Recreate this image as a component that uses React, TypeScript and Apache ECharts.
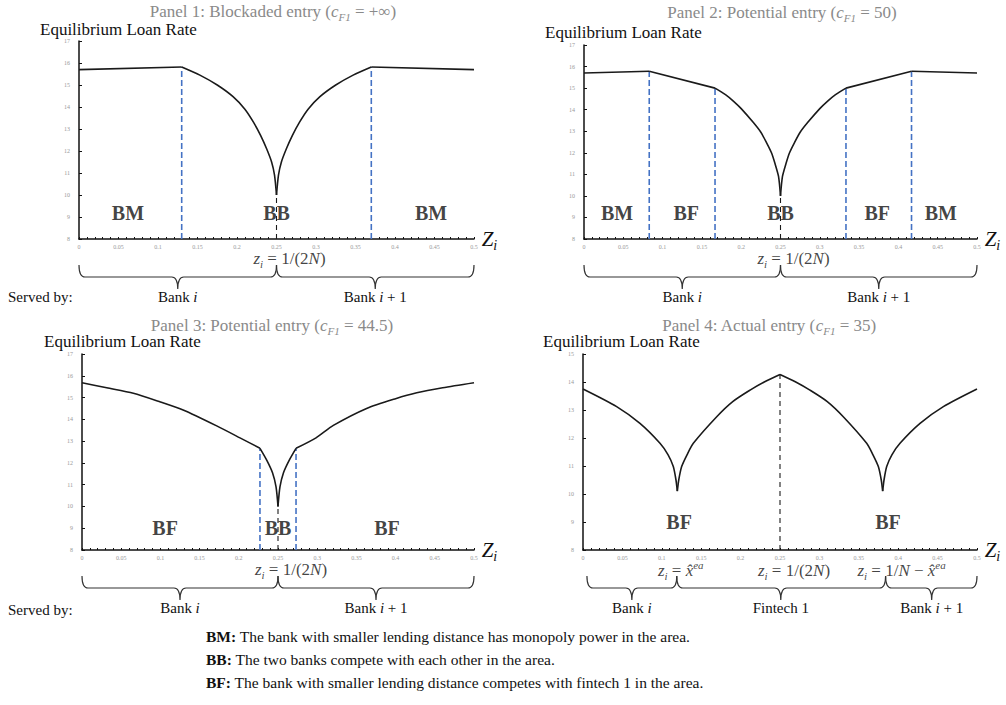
import React, { useEffect, useRef } from "react";
import * as echarts from "echarts";

const FONT = '"Liberation Serif", "Times New Roman", serif';

// ---------- data ----------
const X_TICK_INTERVAL = 0.05;
const X_MAX = 0.5;
const Y_MIN = 8;
const Y_MAX = [17, 17, 17, 15];

const P1_X = [0, 0.13, 0.153, 0.175, 0.195, 0.21, 0.221, 0.23, 0.2375, 0.2438, 0.2475, 0.25, 0.2525, 0.2562, 0.2625, 0.27, 0.279, 0.29, 0.305, 0.325, 0.347, 0.37, 0.5];
const P1_Y = [15.7, 15.82, 15.45, 15.0, 14.47, 13.9, 13.3, 12.7, 12.1, 11.5, 10.9, 10.0, 10.9, 11.5, 12.1, 12.7, 13.3, 13.9, 14.47, 15.0, 15.45, 15.82, 15.7];
const P1_KINKS = [0.13, 0.25, 0.37];

const P2_X = [0, 0.083, 0.1667, 0.18, 0.19, 0.2, 0.2155, 0.225, 0.2325, 0.2385, 0.243, 0.2475, 0.25, 0.2525, 0.257, 0.2615, 0.2675, 0.275, 0.2845, 0.3, 0.31, 0.32, 0.3333, 0.4167, 0.5];
const P2_Y = [15.7, 15.78, 15.0, 14.7, 14.4, 14.05, 13.4, 12.95, 12.45, 12.0, 11.5, 10.9, 10.0, 10.9, 11.5, 12.0, 12.45, 12.95, 13.4, 14.05, 14.4, 14.7, 15.0, 15.78, 15.7];
const P2_KINKS = [0.083, 0.1667, 0.25, 0.3333, 0.4167];

const P3_X = [0, 0.0315, 0.0655, 0.1, 0.129, 0.1718, 0.2015, 0.227, 0.2356, 0.243, 0.2475, 0.25, 0.2525, 0.257, 0.2644, 0.273, 0.2985, 0.3206, 0.363, 0.4, 0.427, 0.46, 0.5];
const P3_Y = [15.68, 15.45, 15.2, 14.8, 14.43, 13.7, 13.15, 12.67, 12.13, 11.55, 10.9, 10.0, 10.9, 11.55, 12.13, 12.67, 13.15, 13.72, 14.5, 14.95, 15.22, 15.45, 15.68];
const P3_KINKS = [0.227, 0.25, 0.273];

const P4_X = [0, 0.0427, 0.0723, 0.0977, 0.108, 0.1146, 0.118, 0.1197, 0.1215, 0.1252, 0.132, 0.14, 0.1697, 0.19, 0.212, 0.23, 0.25, 0.27, 0.288, 0.31, 0.3303, 0.36, 0.368, 0.3748, 0.3785, 0.3803, 0.382, 0.3854, 0.392, 0.4023, 0.4277, 0.4573, 0.5];
const P4_Y = [13.75, 13.12, 12.52, 11.81, 11.4, 10.98, 10.5, 10.1, 10.5, 10.98, 11.4, 11.81, 12.76, 13.3, 13.71, 14.0, 14.27, 14.0, 13.71, 13.3, 12.76, 11.81, 11.4, 10.98, 10.5, 10.1, 10.5, 10.98, 11.4, 11.81, 12.52, 13.12, 13.75];
const P4_KINKS = [0.1197, 0.25, 0.3803];

// vertical dashed blue boundaries: [x, top value]
const P1_BLUE = [[0.13, 15.82], [0.37, 15.82]];
const P2_BLUE = [[0.083, 15.78], [0.1667, 15.0], [0.3333, 15.0], [0.4167, 15.78]];
const P3_BLUE = [[0.227, 12.67], [0.273, 12.67]];
const P4_BLUE: number[][] = [];
// black dashed at midpoint: [x, top value]
const MID_DASH = [[0.25, 10.0], [0.25, 10.0], [0.25, 10.0], [0.25, 14.27]];

// region labels: [x, y, name]
const P1_REGIONS: [number, number, string][] = [[0.062, 9.2, "BM"], [0.25, 9.2, "BB"], [0.4456, 9.2, "BM"]];
const P2_REGIONS: [number, number, string][] = [[0.042, 9.22, "BM"], [0.13, 9.22, "BF"], [0.25, 9.22, "BB"], [0.373, 9.22, "BF"], [0.454, 9.22, "BM"]];
const P3_REGIONS: [number, number, string][] = [[0.106, 9.0, "BF"], [0.25, 9.0, "BB"], [0.389, 9.0, "BF"]];
const P4_REGIONS: [number, number, string][] = [[0.122, 9.0, "BF"], [0.387, 9.0, "BF"]];

// braces: [from, tip, to]
const P1_BRACES = [[0, 0.125, 0.25], [0.25, 0.375, 0.5]];
const P2_BRACES = [[0, 0.125, 0.25], [0.25, 0.375, 0.5]];
const P3_BRACES = [[0, 0.125, 0.25], [0.25, 0.375, 0.5]];
const P4_BRACES = [[0.005, 0.062, 0.119], [0.119, 0.251, 0.384], [0.384, 0.4425, 0.5]];
const BANK_LABELS = ["Bank {it|i}", "Bank {it|i} + 1"];
const P4_BRACE_LABELS = ["Bank {it|i}", "Fintech 1", "Bank {it|i} + 1"];

// annotations below axis: [x, pixel shift, rich text]
const MID_NOTE = "{m|z}{s|i}{n| = 1/(2}{m|N}{n|)}";
const P123_NOTES: [number, number, string][] = [[0.25, 13, MID_NOTE]];
const P4_NOTES: [number, number, string][] = [
  [0.119, 4, "{m|z}{s|i}{n| = }{m|x̂}{p|ea}"],
  [0.25, 14, MID_NOTE],
  [0.384, 16, "{m|z}{s|i}{n| = 1/}{m|N}{n| − }{m|x̂}{p|ea}"],
];

const TITLES = [
  "{t|Panel 1: Blockaded entry (}{ti|c}{ts|F1}{t| = +∞)}",
  "{t|Panel 2: Potential entry (}{ti|c}{ts|F1}{t| = 50)}",
  "{t|Panel 3: Potential entry (}{ti|c}{ts|F1}{t| = 44.5)}",
  "{t|Panel 4: Actual entry (}{ti|c}{ts|F1}{t| = 35)}",
];
const Y_TITLE = "Equilibrium Loan Rate";
const LEGEND_LINES = [
  "{b|BM:} The bank with smaller lending distance has monopoly power in the area.",
  "{b|BB:} The two banks compete with each other in the area.",
  "{b|BF:} The bank with smaller lending distance competes with fintech 1 in the area.",
];

// ---------- layout ----------
const GRIDS = [
  { left: 79, top: 41, width: 395, height: 198 },
  { left: 584, top: 45, width: 393, height: 194 },
  { left: 82, top: 354, width: 392, height: 196 },
  { left: 583, top: 354, width: 394, height: 196 },
];
const TITLE_POS = [[273, 11], [782, 12], [272, 325], [769, 325]];
const YTITLE_POS = [[40, 29], [545, 32], [44, 341], [543, 341]];
const NOTE_DY = [19, 19, 19, 20];

const mathRich = {
  m: { fontFamily: FONT, fontStyle: "italic", fontSize: 17, lineHeight: 22, color: "#111" },
  n: { fontFamily: FONT, fontSize: 17, lineHeight: 22, color: "#111" },
  s: { fontFamily: FONT, fontStyle: "italic", fontSize: 11, lineHeight: 12, verticalAlign: "bottom", color: "#111" },
  p: { fontFamily: FONT, fontStyle: "italic", fontSize: 11, lineHeight: 12, verticalAlign: "top", color: "#111" },
};

// split a curve into pieces at its kinks so that each piece can be smoothed
function segments(xs: number[], ys: number[], kinks: number[]) {
  const segs: number[][][] = [];
  let cur: number[][] = [];
  xs.forEach((x, i) => {
    cur.push([x, ys[i]]);
    if (kinks.some((k) => Math.abs(k - x) < 1e-9) && cur.length > 1) {
      segs.push(cur);
      cur = [[x, ys[i]]];
    }
  });
  if (cur.length > 1) segs.push(cur);
  return segs;
}

function braceSeries(idx: number, braces: number[][], labels: string[]) {
  return {
    type: "custom",
    xAxisIndex: idx,
    yAxisIndex: idx,
    silent: true,
    clip: false,
    data: braces,
    renderItem: (params: any, api: any) => {
      const a = api.coord([api.value(0), Y_MIN]);
      const t = api.coord([api.value(1), Y_MIN]);
      const b = api.coord([api.value(2), Y_MIN]);
      const base = a[1];
      const top = base + 26;
      const mid = base + 38;
      const bot = base + 50;
      const r = 6;
      const d =
        `M${a[0]},${top} Q${a[0]},${mid} ${a[0] + r},${mid} L${t[0] - r},${mid} ` +
        `Q${t[0]},${mid} ${t[0]},${bot} Q${t[0]},${mid} ${t[0] + r},${mid} ` +
        `L${b[0] - r},${mid} Q${b[0]},${mid} ${b[0]},${top}`;
      return {
        type: "group",
        children: [
          { type: "path", shape: { pathData: d }, style: { fill: "none", stroke: "#333", lineWidth: 1.2 } },
          {
            type: "text",
            x: t[0],
            y: base + 58,
            style: {
              text: labels[params.dataIndex],
              align: "center",
              verticalAlign: "middle",
              font: `15px ${FONT}`,
              fill: "#111",
              rich: { it: { fontFamily: FONT, fontStyle: "italic", fontSize: 15, color: "#111" } },
            },
          },
        ],
      };
    },
  };
}

function panelSeries(
  idx: number,
  xs: number[],
  ys: number[],
  kinks: number[],
  blue: number[][],
  regions: [number, number, string][],
  notes: [number, number, string][],
  braces: number[][],
  braceLabels: string[]
) {
  const out: any[] = [];
  segments(xs, ys, kinks).forEach((seg) => {
    out.push({
      type: "line",
      xAxisIndex: idx,
      yAxisIndex: idx,
      data: seg,
      showSymbol: false,
      symbol: "none",
      smooth: 0.25,
      lineStyle: { color: "#1a1a1a", width: 1.6 },
      z: 5,
    });
  });
  blue.forEach(([x, top]) => {
    out.push({
      type: "line",
      xAxisIndex: idx,
      yAxisIndex: idx,
      data: [[x, Y_MIN], [x, top]],
      symbol: "none",
      lineStyle: { color: "#4472c4", width: 1.6, type: [6, 3] },
      z: 3,
    });
  });
  const [mx, mt] = MID_DASH[idx];
  out.push({
    type: "line",
    xAxisIndex: idx,
    yAxisIndex: idx,
    data: [[mx, Y_MIN], [mx, mt]],
    symbol: "none",
    lineStyle: { color: "#1a1a1a", width: 1.1, type: [5, 4] },
    z: 3,
  });
  out.push({
    type: "scatter",
    xAxisIndex: idx,
    yAxisIndex: idx,
    symbolSize: 1,
    itemStyle: { color: "rgba(0,0,0,0)" },
    silent: true,
    z: 6,
    data: regions.map(([x, y, name]) => ({ value: [x, y], name })),
    label: {
      show: true,
      position: "inside",
      formatter: "{b}",
      fontFamily: FONT,
      fontWeight: "bold",
      fontSize: 20,
      color: "#111",
    },
  });
  out.push({
    type: "scatter",
    xAxisIndex: idx,
    yAxisIndex: idx,
    symbolSize: 1,
    itemStyle: { color: "rgba(0,0,0,0)" },
    silent: true,
    z: 6,
    data: notes.map(([x, dx, text]) => ({
      value: [x, Y_MIN],
      label: { show: true, position: "inside", offset: [dx, NOTE_DY[idx]], formatter: text, rich: mathRich },
    })),
  });
  out.push(braceSeries(idx, braces, braceLabels));
  return out;
}

function makeAxes(idx: number) {
  const xAxis = {
    type: "value",
    gridIndex: idx,
    min: 0,
    max: X_MAX,
    interval: X_TICK_INTERVAL,
    axisLine: { show: true, lineStyle: { color: "#111", width: 1.5 } },
    axisTick: { show: true, inside: true, length: 2, lineStyle: { color: "#111" } },
    minorTick: { show: true, splitNumber: 5, length: 2, lineStyle: { color: "#111" } },
    axisLabel: { fontSize: 6, color: "#999", margin: 5, fontFamily: FONT },
    splitLine: { show: false },
    name: "{z|Z}{i|i}",
    nameLocation: "end",
    nameGap: 5,
    nameTextStyle: {
      rich: {
        z: { fontFamily: FONT, fontStyle: "italic", fontSize: 21, lineHeight: 26, color: "#111" },
        i: { fontFamily: FONT, fontStyle: "italic", fontSize: 14, lineHeight: 14, verticalAlign: "bottom", color: "#111" },
      },
    },
  };
  const yAxis = {
    type: "value",
    gridIndex: idx,
    min: Y_MIN,
    max: Y_MAX[idx],
    interval: 1,
    axisLine: { show: true, lineStyle: { color: "#111", width: 1.5 } },
    axisTick: { show: true, inside: true, length: 3, lineStyle: { color: "#111" } },
    axisLabel: { fontSize: 6, color: "#999", margin: 9, fontFamily: FONT },
    splitLine: { show: false },
  };
  return { xAxis, yAxis };
}

export default function App() {
  const ref = useRef<HTMLDivElement>(null);
  useEffect(() => {
    document.body.style.margin = "0";
    if (!ref.current) return;
    const chart = echarts.init(ref.current, undefined, { renderer: "svg" });
    const axes = [0, 1, 2, 3].map(makeAxes);
    const series = [
      ...panelSeries(0, P1_X, P1_Y, P1_KINKS, P1_BLUE, P1_REGIONS, P123_NOTES, P1_BRACES, BANK_LABELS),
      ...panelSeries(1, P2_X, P2_Y, P2_KINKS, P2_BLUE, P2_REGIONS, P123_NOTES, P2_BRACES, BANK_LABELS),
      ...panelSeries(2, P3_X, P3_Y, P3_KINKS, P3_BLUE, P3_REGIONS, P123_NOTES, P3_BRACES, BANK_LABELS),
      ...panelSeries(3, P4_X, P4_Y, P4_KINKS, P4_BLUE, P4_REGIONS, P4_NOTES, P4_BRACES, P4_BRACE_LABELS),
    ];
    const titleRich = {
      t: { fontFamily: FONT, fontSize: 17, color: "#8a8a8a", lineHeight: 22 },
      ti: { fontFamily: FONT, fontStyle: "italic", fontSize: 17, color: "#8a8a8a", lineHeight: 22 },
      ts: { fontFamily: FONT, fontStyle: "italic", fontSize: 11, color: "#8a8a8a", lineHeight: 12, verticalAlign: "bottom" },
    };
    const graphic: any[] = [];
    TITLES.forEach((txt, i) => {
      graphic.push({
        type: "text",
        x: TITLE_POS[i][0],
        y: TITLE_POS[i][1],
        style: { text: txt, rich: titleRich, align: "center", verticalAlign: "middle", font: `17px ${FONT}`, fill: "#8a8a8a" },
      });
      graphic.push({
        type: "text",
        x: YTITLE_POS[i][0],
        y: YTITLE_POS[i][1],
        style: { text: Y_TITLE, align: "left", verticalAlign: "middle", font: `17px ${FONT}`, fill: "#111" },
      });
    });
    [297, 610].forEach((y) => {
      graphic.push({
        type: "text",
        x: 8,
        y,
        style: { text: "Served by:", align: "left", verticalAlign: "middle", font: `15px ${FONT}`, fill: "#111" },
      });
    });
    LEGEND_LINES.forEach((txt, i) => {
      graphic.push({
        type: "text",
        x: 206,
        y: 636 + i * 23,
        style: {
          text: txt,
          align: "left",
          verticalAlign: "middle",
          font: `15.5px ${FONT}`,
          fill: "#111",
          rich: {
            b: { fontFamily: FONT, fontWeight: "bold", fontSize: 15.5, color: "#111" },
          },
        },
      });
    });
    chart.setOption({
      animation: false,
      backgroundColor: "#ffffff",
      grid: GRIDS.map((g) => ({ ...g, containLabel: false })),
      xAxis: axes.map((a) => a.xAxis),
      yAxis: axes.map((a) => a.yAxis),
      series,
      graphic,
    });
    return () => chart.dispose();
  }, []);
  return <div ref={ref} style={{ width: 1006, height: 705 }} />;
}
